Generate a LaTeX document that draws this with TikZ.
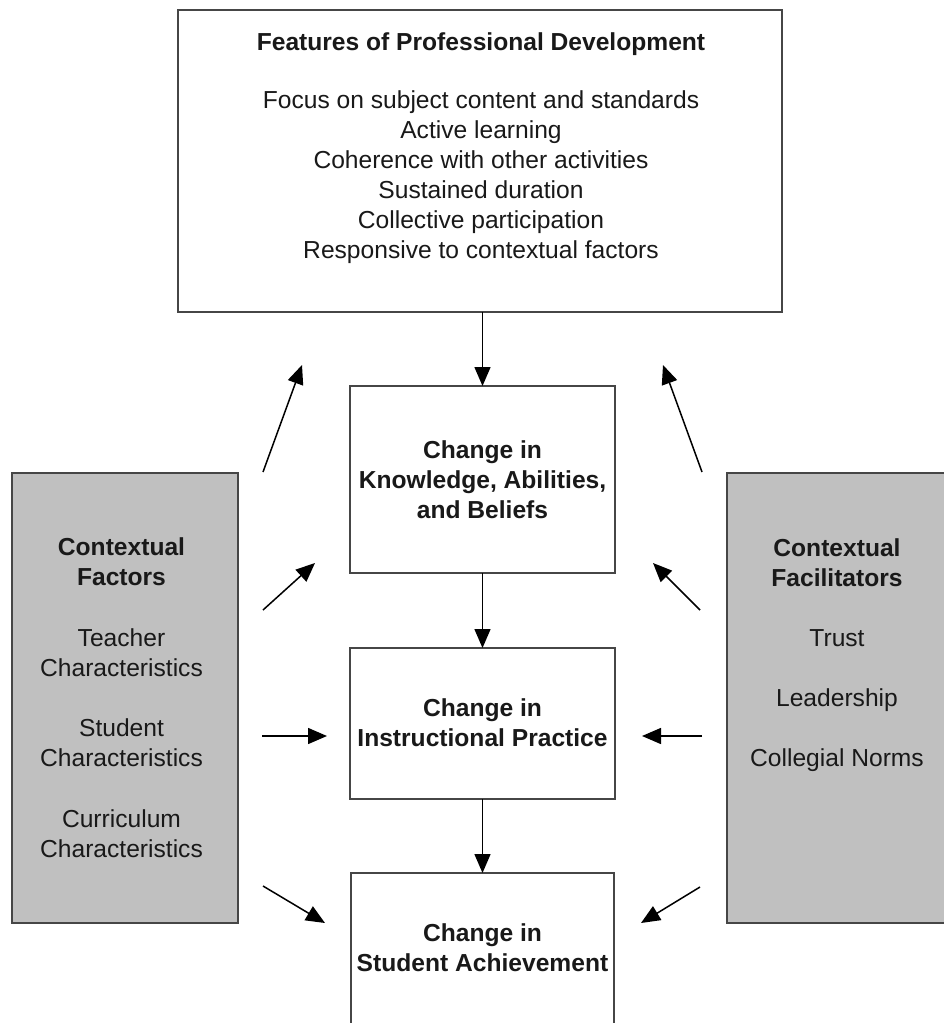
\documentclass[tikz,border=0pt]{standalone}
\usepackage{fontspec}
\setmainfont{Liberation Sans}
\usetikzlibrary{arrows.meta}
\definecolor{boxline}{RGB}{70,70,70}
\definecolor{panelfill}{RGB}{192,192,192}
\definecolor{ink}{RGB}{25,25,25}
\begin{document}
\begin{tikzpicture}[x=1pt,y=-1pt,
  every node/.style={inner sep=0pt,outer sep=0pt},
  whitebox/.style={draw=boxline,line width=2.2pt,fill=white},
  greybox/.style={draw=boxline,line width=2.2pt,fill=panelfill},
  label/.style={align=center,text=ink,font=\fontsize{24.6}{30}\selectfont},
  heading/.style={label,font=\fontsize{24.6}{30}\selectfont\bfseries},
  flow/.style={draw=black,line width=1.5pt,-{Triangle[length=19pt,width=16pt]}}]
\useasboundingbox (0,0) rectangle (944,1023);

% Top box: features of professional development
\node[whitebox,minimum width=604pt,minimum height=302pt] (pd) at (480,161) {};
\node[label] (pdtext) at (481,148) {\textbf{Features of Professional Development}\\[28pt]
  Focus on subject content and standards\\
  Active learning\\
  Coherence with other activities\\
  Sustained duration\\
  Collective participation\\
  Responsive to contextual factors};

% Central chain of change boxes
\node[whitebox,minimum width=265pt,minimum height=187pt] (kab) at (482.5,479.5) {};
\node[heading] (kabtext) at (482.5,480) {Change in\\Knowledge, Abilities,\\and Beliefs};

\node[whitebox,minimum width=265pt,minimum height=151pt] (ip) at (482.5,723.5) {};
\node[heading] (iptext) at (482.5,723) {Change in\\Instructional Practice};

\node[whitebox,minimum width=263pt,minimum height=170pt] (sa) at (482.5,958) {};
\node[heading] (satext) at (482.5,948) {Change in\\Student Achievement};

% Side panels
\node[greybox,minimum width=226pt,minimum height=450pt] (cf) at (125,698) {};
\node[label] (cftext) at (121.5,697.5) {\textbf{Contextual}\\\textbf{Factors}\\[30.5pt]
  Teacher\\Characteristics\\[30.5pt]
  Student\\Characteristics\\[30.5pt]
  Curriculum\\Characteristics};

\node[greybox,minimum width=226pt,minimum height=450pt] (cl) at (840,698) {};
\node[label] (cltext) at (837,655.5) {\textbf{Contextual}\\\textbf{Facilitators}\\[30pt]
  Trust\\[30pt]
  Leadership\\[30pt]
  Collegial Norms};

% Main vertical flow
\draw[flow] (kab.north |- pd.south) -- (kab.north);
\draw[flow] (kab.south) -- (ip.north);
\draw[flow] (ip.south) -- (sa.north);

% Arrow ends around the chain
\coordinate (l1s) at (263,472); \coordinate (l1e) at (302,365);
\coordinate (l2s) at (263,610); \coordinate (l2e) at (315,563);
\coordinate (l3s) at (262,736); \coordinate (l3e) at (327,736);
\coordinate (l4s) at (263,886); \coordinate (l4e) at (325,923);
\coordinate (r1s) at (702,472); \coordinate (r1e) at (663,365);
\coordinate (r2s) at (700,610); \coordinate (r2e) at (653,563);
\coordinate (r3s) at (702,736); \coordinate (r3e) at (642,736);
\coordinate (r4s) at (700,887); \coordinate (r4e) at (641,923);

\foreach \a in {l1,l2,l3,l4,r1,r2,r3,r4}
  \draw[flow] (\a s) -- (\a e);
\end{tikzpicture}
\end{document}
